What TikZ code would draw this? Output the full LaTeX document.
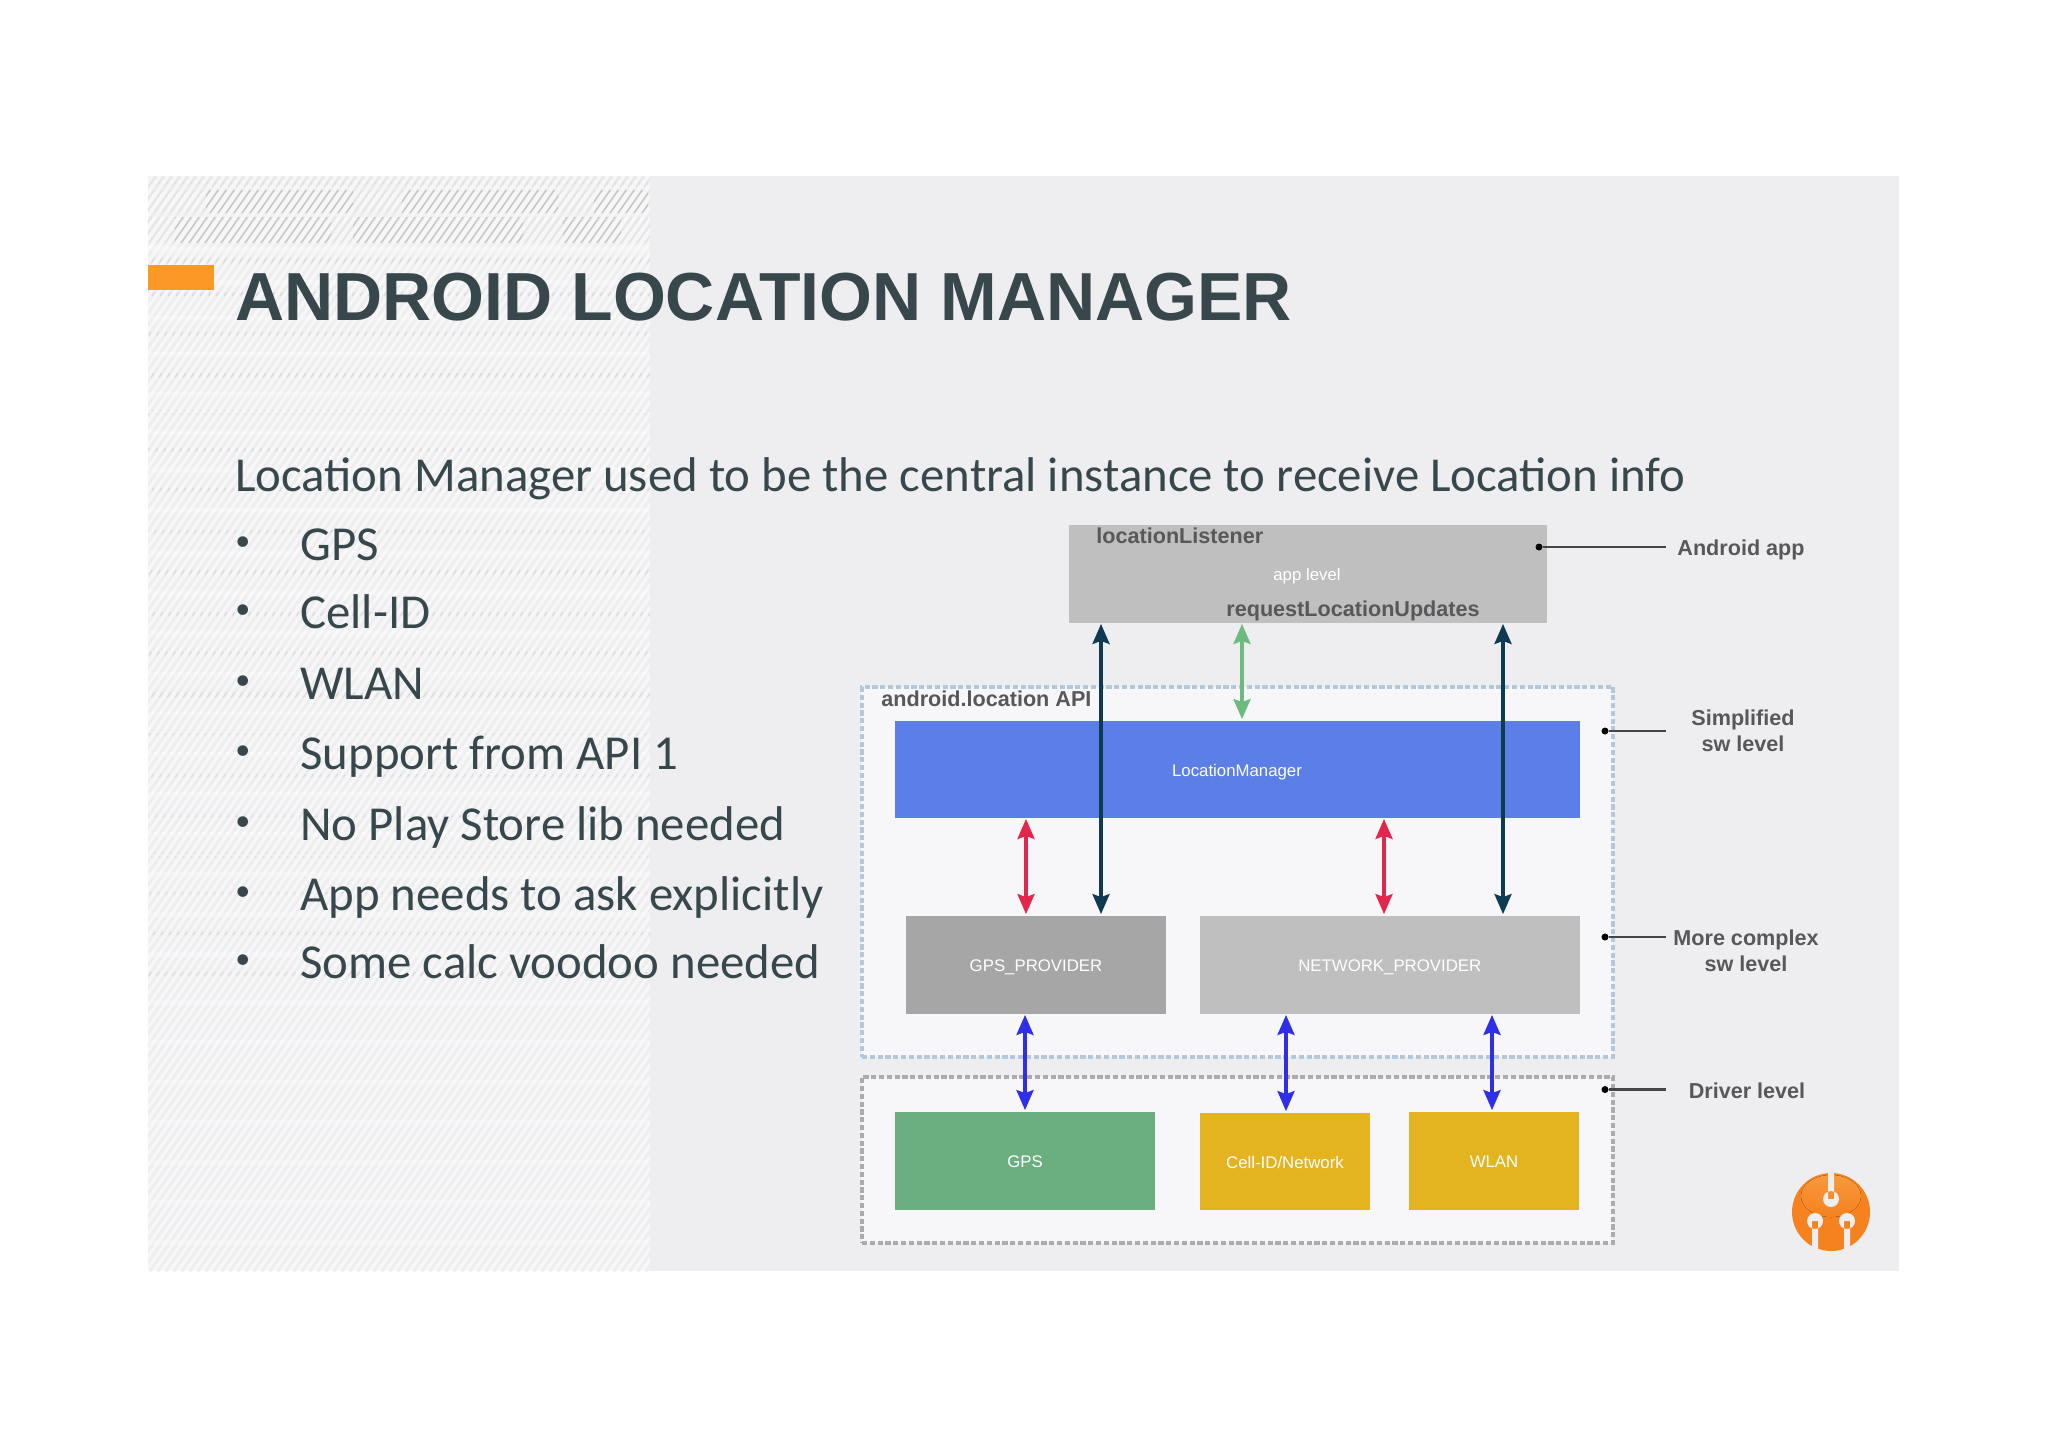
\documentclass[tikz,border=0pt]{standalone}
\usepackage{fontspec}
\usepackage{xcolor}
\setmainfont{Carlito}
\newfontfamily\arialfont{Liberation Sans}
\usetikzlibrary{
    arrows.meta,
    calc,
    positioning
}
\definecolor{slidebg}{HTML}{EEEEF0}
\definecolor{inkdark}{HTML}{37474B}
\definecolor{panelbg}{HTML}{F7F7F9}
\definecolor{labelgray}{HTML}{58585A}
\definecolor{accent}{HTML}{FB9826}
\definecolor{managerblue}{HTML}{5B7FE6}
\definecolor{gpsgreen}{HTML}{6BAF80}
\definecolor{chipyellow}{HTML}{E3B420}
\definecolor{linkdark}{HTML}{0F3B52}
\definecolor{linkgreen}{HTML}{6CBB82}
\definecolor{linkred}{HTML}{E2264D}
\definecolor{linkblue}{HTML}{2F2FE8}
\definecolor{apiedge}{HTML}{B4C8DC}
\definecolor{driveredge}{HTML}{ABABAD}
\definecolor{logoorange}{HTML}{F5811F}
\definecolor{logolight}{HTML}{F89A3C}
\tikzset{sbox/.style={inner sep=0pt, text=white, text height=7.4pt, text depth=0pt, font=\arialfont\fontsize{8.4}{8.4}\selectfont}}
\tikzset{spanel/.style={inner sep=0pt, line width=1.6pt, fill=panelbg, dash pattern=on 2.6pt off 1.3pt}}
\tikzset{sbold/.style={inner sep=0pt, text=labelgray, align=center, font=\arialfont\bfseries\fontsize{10.8}{13.2}\selectfont}}
\tikzset{sdot/.style={inner sep=0pt, circle, minimum size=3.5pt, fill=black}}
\tikzset{sleader/.style={line width=1.2pt, draw=labelgray!80!black}}
\tikzset{slink/.style={line width=1.7pt, draw=#1, fill=#1, {Stealth[length=10pt,width=8.5pt,inset=1.5pt]}-{Stealth[length=10pt,width=8.5pt,inset=1.5pt]}, shorten <=0.5pt, shorten >=0.5pt}}
\tikzset{sbody/.style={inner sep=0pt, anchor=base west, text=inkdark, font=\fontsize{24.4}{24.4}\selectfont}}
\tikzset{smark/.style={inner sep=0pt, anchor=base west, text=inkdark, font=\fontsize{15}{15}\selectfont}}
\begin{document}
\begin{tikzpicture}[x=0.5pt, y=-0.5pt]
    \useasboundingbox (0, 0) rectangle (2048, 1448);
    \fill[white] (0, 0) rectangle (2048, 1448);
    \fill[slidebg] (148, 176) rectangle (1899, 1271);

    % hatched strip
    \begin{scope}
        \clip (148, 176) rectangle (650, 1271);
        \fill[white!55!slidebg] (148, 176) rectangle (650, 1271);
        \foreach \k in {148, 156, ..., 1420} {
            \draw[slidebg, line width=1.5pt] (\k-766, 1271) -- (\k, 176);
        }
        \foreach \y in {246, 280, 316, 352, 392, 430, 468, 508, 550, 590, 630, 672, 712, 752, 792, 832, 872, 912, 952, 1000, 1040, 1080, 1120, 1160, 1200, 1240} {
            \fill[white, opacity=0.25] (148, \y) rectangle (650, \y+5);
        }
    \end{scope}
    \begin{scope}
        \clip (148, 177) rectangle (650, 187) (148, 190) rectangle (650, 213) (148, 217) rectangle (650, 243);
        \foreach \k in {148, 156, ..., 1420} {
            \draw[gray!25, line width=0.4pt] (\k-766, 1271) -- (\k, 176);
        }
    \end{scope}
    \begin{scope}
        \clip (206, 190) rectangle (353, 213) (402, 190) rectangle (558, 213) (594, 190) rectangle (648, 213)
              (175, 217) rectangle (331, 243) (353, 217) rectangle (523, 243) (563, 217) rectangle (621, 243);
        \foreach \k in {148, 156, ..., 1420} {
            \draw[gray!50, line width=0.5pt] (\k-766, 1271) -- (\k, 176);
        }
    \end{scope}
    \begin{scope}
        \clip \foreach \y in {258, 292, 330, 372, 410, 448, 486, 530, 570, 612, 650, 692, 730, 772, 812, 852, 892, 932, 972} {(148, \y) rectangle (650, \y+5)};
        \foreach \k in {148, 156, ..., 1420} {
            \draw[gray!30, line width=0.5pt, dash pattern=on 3pt off 2pt] (\k-766, 1271) -- (\k, 176);
        }
    \end{scope}

    \fill[accent] (148, 265) rectangle (214, 290);

    \node[inner sep=0pt, anchor=base west, text=inkdark, font=\arialfont\bfseries\fontsize{34}{34}\selectfont] (title) at (235, 320) {ANDROID LOCATION MANAGER};
    \node[sbody] (lead) at (235, 491) {Location Manager used to be the central instance to receive Location info};

    \foreach \i/\y/\t in {1/560/GPS, 2/628/Cell-ID, 3/699/WLAN, 4/769/Support from API 1, 5/840/No Play Store lib needed, 6/910/App needs to ask explicitly, 7/978/Some calc voodoo needed} {
        \node[smark] (mark\i) at (235, \y-10) {\textbullet};
        \node[sbody] (item\i) at (300, \y) {\t};
    }

    % panels
    \node[spanel, draw=apiedge, minimum width=375.5pt, minimum height=185pt] (api) at (1237.5, 872) {};
    \node[spanel, draw=driveredge, minimum width=375.5pt, minimum height=83pt] (driver) at (1237.5, 1160) {};

    % boxes
    \node[sbox, fill=black!25, minimum width=239pt, minimum height=49pt] (app) at (1308, 573.5) {};
    \node[sbox, fill=managerblue, minimum width=342.5pt, minimum height=48.5pt] (lm) at (1237.5, 769) {};
    \node[sbox, fill=black!35, minimum width=130pt, minimum height=49pt] (gpsprov) at (1036, 964.5) {GPS\_PROVIDER};
    \node[sbox, fill=black!25, minimum width=190.25pt, minimum height=49pt] (netprov) at (1389.75, 964.5) {NETWORK\_PROVIDER};
    \node[sbox, fill=gpsgreen, minimum width=130pt, minimum height=49pt] (gps) at (1025, 1160.5) {GPS};
    \node[sbox, fill=chipyellow, minimum width=85pt, minimum height=48.5pt] (cell) at (1285, 1161) {Cell-ID/Network};
    \node[sbox, fill=chipyellow, minimum width=85pt, minimum height=49pt] (wlan) at (1494, 1160.5) {WLAN};

    % box texts
    \node[sbold, anchor=base west] (listener) at (1096, 543) {locationListener};
    \node[sbox] (applevel) at (1307, 573) {app level};
    \node[sbold, anchor=base west] (request) at (1226, 616) {requestLocationUpdates};
    \node[sbold, anchor=base west] (apilabel) at (881, 706) {android.location API};
    \node[sbox] (lmlabel) at (1237, 769) {LocationManager};

    % arrows
    \coordinate (xa) at (1101, 0);
    \coordinate (xb) at (1503, 0);
    \coordinate (xc) at (1242, 0);
    \coordinate (xd) at (1026, 0);
    \coordinate (xe) at (1384, 0);
    \coordinate (xf) at (1025, 0);
    \coordinate (xg) at (1286, 0);
    \coordinate (xh) at (1492, 0);
    \coordinate (xend) at (1666, 0);

    \draw[slink=linkdark] (app.south -| xa) -- (gpsprov.north -| xa);
    \draw[slink=linkdark] (app.south -| xb) -- (netprov.north -| xb);
    \draw[slink=linkgreen] (app.south -| xc) -- (lm.north -| xc);
    \draw[slink=linkred] (lm.south -| xd) -- (gpsprov.north -| xd);
    \draw[slink=linkred] (lm.south -| xe) -- (netprov.north -| xe);
    \draw[slink=linkblue] (gpsprov.south -| xf) -- (gps.north -| xf);
    \draw[slink=linkblue] (netprov.south -| xg) -- (cell.north -| xg);
    \draw[slink=linkblue] (netprov.south -| xh) -- (wlan.north -| xh);

    % level labels
    \node[sdot] (dota) at (1539, 547) {};
    \node[sdot] (dotb) at (1605, 731) {};
    \node[sdot] (dotc) at (1605, 937) {};
    \node[sdot] (dotd) at (1605, 1089.5) {};
    \node[sbold] (lbla) at (1741, 549.5) {Android app};
    \node[sbold] (lblb) at (1743, 731) {Simplified\\sw level};
    \node[sbold] (lblc) at (1746, 951) {More complex\\sw level};
    \node[sbold] (lbld) at (1747, 1091) {Driver level};
    \foreach \d in {dota, dotb, dotc, dotd} {
        \draw[sleader] (\d) -- (\d -| xend);
    }

    % logo
    \fill[logoorange] (1831, 1212) circle[radius=39];
    \fill[top color=logolight, bottom color=logoorange] (1831, 1196) ellipse[x radius=30, y radius=21];
    \fill[slidebg] (1828, 1170) rectangle (1834, 1199) (1831, 1199) circle[radius=8];
    \fill[slidebg] (1815, 1221) circle[radius=8] (1812, 1221) rectangle (1818, 1256);
    \fill[slidebg] (1847, 1221) circle[radius=8] (1844, 1221) rectangle (1850, 1256);
\end{tikzpicture}
\end{document}
